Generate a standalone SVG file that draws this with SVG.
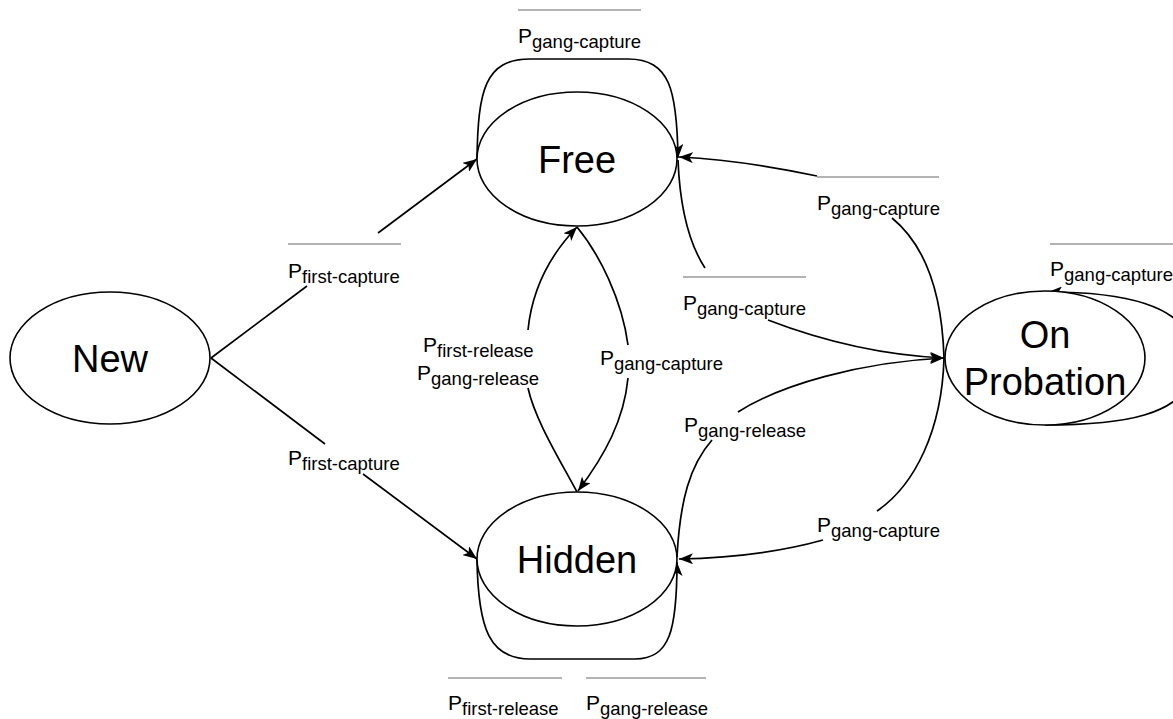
<svg xmlns="http://www.w3.org/2000/svg" width="1173" height="719" viewBox="0 0 1173 719">
<style>
.node{fill:#fff;stroke:#000;stroke-width:1.6}
.ntxt{font-family:"Liberation Sans",Arial,sans-serif;font-size:38px;fill:#000;text-anchor:middle}
.edge{fill:none;stroke:#000;stroke-width:1.7}
.arr{marker-end:url(#ah)}
.lbl{font-family:"Liberation Sans",Arial,sans-serif;font-size:21px;fill:#000}
.sub{font-size:18.5px}
.bar{stroke:#b3b3b3;stroke-width:2}
</style>
<defs>
<marker id="ah" viewBox="0 0 14 11" refX="14" refY="5.5" markerWidth="14" markerHeight="11" markerUnits="userSpaceOnUse" orient="auto">
<path d="M0,0 L14,5.5 L0,11 L3.5,5.5 Z" fill="#000"/>
</marker>
</defs>
<rect width="1173" height="719" fill="#fff"/>
<g id="connectors">
<!-- New -> Free -->
<path class="edge" d="M211,358 L307,286"/>
<path class="edge arr" d="M378,233 L477,159"/>
<!-- New -> Hidden -->
<path class="edge" d="M211,358 L325,444"/>
<path class="edge arr" d="M363,474 L477,559"/>
<!-- Free self loop -->
<path class="edge arr" d="M477,159 C478,90 485,59 530,59 L628,59 C670,59 677,90 678,158"/>
<!-- Hidden -> Free -->
<path class="edge" d="M577,492 C560,460 535,420 528,388"/>
<path class="edge arr" d="M528,330 C532,290 550,255 577,227"/>
<!-- Free -> Hidden -->
<path class="edge" d="M577,227 C600,255 622,300 628,345"/>
<path class="edge arr" d="M628,378 C624,420 605,455 578,491"/>
<!-- Free -> On Probation -->
<path class="edge" d="M678,160 C680,210 690,245 705,268"/>
<path class="edge arr" d="M768,320 C820,340 880,355 944,358"/>
<!-- Hidden -> On Probation -->
<path class="edge" d="M677,557 C680,500 690,465 712,440"/>
<path class="edge arr" d="M738,412 C780,385 860,362 944,358"/>
<!-- On Probation -> Free -->
<path class="edge" d="M944,358 C942,290 925,245 892,218"/>
<path class="edge arr" d="M817,176 C770,166 720,159 679,157"/>
<!-- On Probation -> Hidden -->
<path class="edge" d="M944,358 C942,430 915,485 877,511"/>
<path class="edge arr" d="M823,540 C780,552 730,558 679,559"/>
<!-- Hidden self loop -->
<path class="edge arr" d="M477,559 C478,630 490,659 530,659 L635,659 C670,659 677,630 677,562"/>
<!-- On Probation self loop -->
<path class="edge arr" d="M1045,425 C1110,425 1195,420 1195,360 C1195,300 1110,292 1048,292"/>
</g>
<g id="node-new"><ellipse class="node" cx="110" cy="358" rx="100" ry="66"/><text class="ntxt" x="110" y="372">New</text></g>
<g id="node-free"><ellipse class="node" cx="577" cy="159" rx="100" ry="67"/><text class="ntxt" x="577" y="173">Free</text></g>
<g id="node-hidden"><ellipse class="node" cx="577" cy="559" rx="100" ry="67"/><text class="ntxt" x="577" y="573">Hidden</text></g>
<g id="node-onprobation"><ellipse class="node" cx="1045" cy="358" rx="100" ry="67"/><text class="ntxt" x="1045" y="348">On</text><text class="ntxt" x="1045" y="395">Probation</text></g>
<g id="labels">
<line class="bar" x1="518" y1="10" x2="641" y2="10"/>
<text class="lbl" x="518" y="43">P<tspan class="sub" dy="5">gang-capture</tspan></text>
<line class="bar" x1="288" y1="244" x2="401" y2="244"/>
<text class="lbl" x="288" y="278">P<tspan class="sub" dy="5">first-capture</tspan></text>
<line class="bar" x1="817" y1="177" x2="939" y2="177"/>
<text class="lbl" x="817" y="210">P<tspan class="sub" dy="5">gang-capture</tspan></text>
<line class="bar" x1="683" y1="277" x2="806" y2="277"/>
<text class="lbl" x="683" y="310">P<tspan class="sub" dy="5">gang-capture</tspan></text>
<line class="bar" x1="1050" y1="244" x2="1173" y2="244"/>
<text class="lbl" x="1050" y="276">P<tspan class="sub" dy="5">gang-capture</tspan></text>
<text class="lbl" x="423" y="352">P<tspan class="sub" dy="5">first-release</tspan></text>
<text class="lbl" x="417" y="380">P<tspan class="sub" dy="5">gang-release</tspan></text>
<text class="lbl" x="600" y="365">P<tspan class="sub" dy="5">gang-capture</tspan></text>
<text class="lbl" x="684" y="432">P<tspan class="sub" dy="5">gang-release</tspan></text>
<text class="lbl" x="817" y="532">P<tspan class="sub" dy="5">gang-capture</tspan></text>
<text class="lbl" x="288" y="465">P<tspan class="sub" dy="5">first-capture</tspan></text>
<line class="bar" x1="448" y1="678" x2="562" y2="678"/>
<text class="lbl" x="448" y="710">P<tspan class="sub" dy="5">first-release</tspan></text>
<line class="bar" x1="586" y1="678" x2="706" y2="678"/>
<text class="lbl" x="586" y="710">P<tspan class="sub" dy="5">gang-release</tspan></text>
</g>
</svg>
